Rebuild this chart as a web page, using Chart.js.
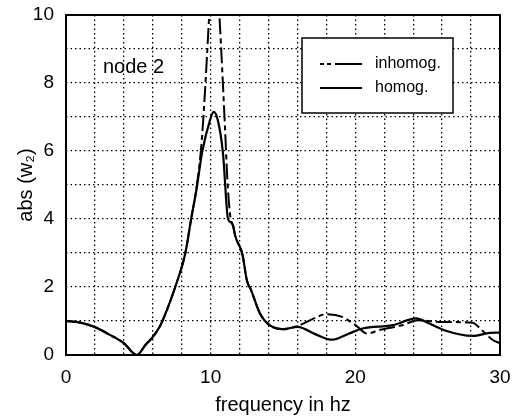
<!DOCTYPE html>
<html>
<head>
<meta charset="utf-8">
<script src="https://cdn.jsdelivr.net/npm/chart.js@4.4.0/dist/chart.umd.min.js"></script>
<style>
  html, body { margin: 0; padding: 0; background: #fff; }
  #wrap { width: 515px; height: 417px; }
</style>
</head>
<body>
<div id="wrap"><canvas id="grafica" width="515" height="417"></canvas></div>
<script>
// valores
const freqHomog = [0, 1, 2, 3, 4, 4.9, 5.5, 6, 6.5, 7, 7.55, 8.25, 8.65, 9.05, 9.4, 9.95, 10.2, 10.5, 10.85, 11.2, 11.4, 11.55, 11.7, 12.2, 12.5, 12.8, 13.4, 14, 15, 16, 17.3, 18.4, 19.5, 20.5, 22.6, 24.2, 25, 26.2, 28.1, 29.3, 30];
const absHomog  = [1.0, 0.95, 0.82, 0.6, 0.35, 0.0, 0.3, 0.53, 0.85, 1.35, 2.0, 3.0, 4.0, 4.95, 5.94, 6.9, 7.15, 6.9, 5.94, 4.0, 3.9, 3.8, 3.5, 2.95, 2.2, 1.9, 1.23, 0.9, 0.76, 0.83, 0.6, 0.45, 0.62, 0.78, 0.88, 1.08, 0.95, 0.72, 0.56, 0.65, 0.66];

const freqInhomog = [0, 1, 2, 3, 4, 4.9, 5.5, 6, 6.5, 7, 7.55, 8.25, 8.65, 9.05, 9.4, 9.9, 10.2, 10.6, 11.0, 11.15, 11.35, 11.55, 11.7, 12.2, 12.5, 12.8, 13.4, 14, 15, 16, 17, 18, 19.1, 20.1, 20.8, 21.7, 23.3, 24.3, 26, 28.1, 28.7, 29.5, 30];
const absInhomog  = [1.0, 0.95, 0.82, 0.6, 0.35, 0.0, 0.3, 0.53, 0.85, 1.35, 2.0, 3.0, 4.0, 5.0, 6.4, 10.0, 12.5, 10.0, 6.6, 5.2, 4.1, 3.8, 3.5, 2.95, 2.2, 1.9, 1.23, 0.9, 0.76, 0.85, 1.05, 1.2, 1.12, 0.85, 0.63, 0.74, 0.88, 1.02, 0.97, 0.95, 0.75, 0.44, 0.35];

const etiquetaNodo = 'node 2';
const fuente = "'Liberation Sans', Arial, sans-serif";

function aPuntos(xs, ys) {
  return xs.map((x, i) => ({ x: x, y: ys[i] }));
}

const marcoYLeyenda = {
  id: 'marcoYLeyenda',
  afterDatasetsDraw(chart) {
    const { ctx, chartArea: a, scales } = chart;
    ctx.save();
    ctx.strokeStyle = '#000';
    ctx.lineWidth = 2;
    ctx.setLineDash([]);
    ctx.strokeRect(a.left, a.top, a.right - a.left, a.bottom - a.top);

    // texto del nodo
    ctx.fillStyle = '#000';
    ctx.font = '20px ' + fuente;
    ctx.textAlign = 'left';
    ctx.textBaseline = 'middle';
    ctx.fillText(etiquetaNodo, scales.x.getPixelForValue(2.55), scales.y.getPixelForValue(8.45));

    // leyenda
    const bx = a.left + 236, by = a.top + 23, bw = 151, bh = 75;
    ctx.fillStyle = '#fff';
    ctx.fillRect(bx, by, bw, bh);
    ctx.lineWidth = 1.5;
    ctx.strokeRect(bx, by, bw, bh);
    chart.data.datasets.forEach((ds, i) => {
      const yy = by + 26 + i * 24;
      ctx.beginPath();
      ctx.setLineDash(ds.label === 'inhomog.' ? [4, 3, 4, 4, 30, 0] : []);
      ctx.lineWidth = ds.borderWidth;
      ctx.moveTo(bx + 18, yy);
      ctx.lineTo(bx + 60, yy);
      ctx.stroke();
      ctx.setLineDash([]);
      ctx.fillStyle = '#000';
      ctx.font = '16px ' + fuente;
      ctx.fillText(ds.label, bx + 73, yy);
    });
    ctx.restore();
  }
};

const cuadricula = {
  color: '#000',
  lineWidth: 1.3,
  drawTicks: false
};

new Chart(document.getElementById('grafica'), {
  type: 'line',
  data: {
    datasets: [
      {
        label: 'inhomog.',
        data: aPuntos(freqInhomog, absInhomog),
        borderColor: '#000',
        borderWidth: 2,
        borderDash: [16, 4, 5, 4],
        pointRadius: 0,
        cubicInterpolationMode: 'monotone',
        fill: false
      },
      {
        label: 'homog.',
        data: aPuntos(freqHomog, absHomog),
        borderColor: '#000',
        borderWidth: 2.2,
        pointRadius: 0,
        cubicInterpolationMode: 'monotone',
        fill: false
      }
    ]
  },
  options: {
    responsive: false,
    animation: false,
    layout: { padding: { top: 15, right: 15, left: 0, bottom: 0 } },
    plugins: {
      legend: { display: false },
      tooltip: { enabled: false }
    },
    scales: {
      x: {
        type: 'linear',
        min: 0,
        max: 30,
        afterFit: s => {
          s.height = 62;
          s.paddingLeft = 0;
          s.paddingRight = 0;
        },
        afterBuildTicks: s => {
          s.ticks = [];
          for (let v = 0; v <= 30; v += 2) s.ticks.push({ value: v });
        },
        grid: { ...cuadricula },
        border: { display: false, dash: [1.5, 3] },
        ticks: {
          color: '#000',
          font: { family: fuente, size: 19 },
          padding: 11,
          maxRotation: 0,
          autoSkip: false,
          callback: v => (v % 10 === 0 ? String(v) : '')
        },
        title: {
          display: true,
          text: 'frequency in hz',
          color: '#000',
          font: { family: fuente, size: 20 },
          padding: { top: 2, bottom: 0 }
        }
      },
      y: {
        min: 0,
        max: 10,
        afterFit: s => {
          s.width = 66;
          s.paddingTop = 0;
          s.paddingBottom = 0;
        },
        grid: { ...cuadricula },
        border: { display: false, dash: [1.5, 3] },
        ticks: {
          stepSize: 1,
          color: '#000',
          font: { family: fuente, size: 19 },
          padding: 12,
          autoSkip: false,
          callback: v => (v % 2 === 0 ? String(v) : '')
        },
        title: {
          display: true,
          text: 'abs (w\u2082)',
          color: '#000',
          font: { family: fuente, size: 20 },
          padding: { top: 14, bottom: 0 }
        }
      }
    }
  },
  plugins: [marcoYLeyenda]
});
</script>
</body>
</html>
